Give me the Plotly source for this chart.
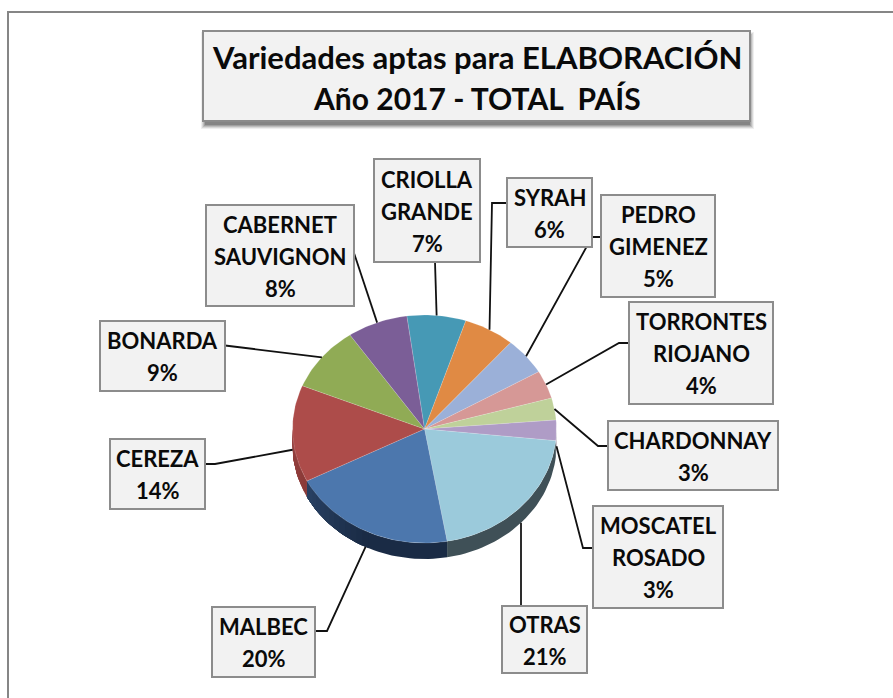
import math
import plotly.graph_objects as go

# ---- data (share of total, %) ----
varieties = ["CRIOLLA GRANDE", "SYRAH", "PEDRO GIMENEZ", "TORRONTES RIOJANO", "CHARDONNAY",
             "MOSCATEL ROSADO", "OTRAS", "MALBEC", "CEREZA", "BONARDA", "CABERNET SAUVIGNON"]
shares = [7.2, 6.25, 5.3, 4.0, 3.1, 2.9, 20.6, 20.2, 13.7, 9.25, 7.4]
label_lines = [["CRIOLLA", "GRANDE", "7%"], ["SYRAH", "6%"], ["PEDRO", "GIMENEZ", "5%"],
               ["TORRONTES", "RIOJANO", "4%"], ["CHARDONNAY", "3%"], ["MOSCATEL", "ROSADO", "3%"],
               ["OTRAS", "21%"], ["MALBEC", "20%"], ["CEREZA", "14%"], ["BONARDA", "9%"],
               ["CABERNET", "SAUVIGNON", "8%"]]
title_lines = ["Variedades aptas para ELABORACIÓN", "Año 2017 - TOTAL  PAÍS"]

# ---- styles and layout ----
colors = ["#4699b5", "#e08a44", "#9bb0d8", "#d69896", "#bfd19a", "#af9cc6",
          "#9bcadb", "#4c77ad", "#ad4c4a", "#90ab55", "#7b5e97"]
side_colors = ["#2a5c6d", "#874f25", "#5d6a82", "#815b5a", "#73805c", "#6a5e78",
               "#3f5057", "#1a2b45", "#7a3230", "#566733", "#4a385b"]
FONT = "Lato"
CX, CY, RX, RY, DEPTH = 424.5, 429.0, 132.0, 114.0, 16.0
START = -7.7
# box x0, y0, x1, y1 and leader bend points, in page pixels
boxes = [(374, 159, 480, 262), (507, 178, 592, 247), (601, 195, 715, 297), (629, 302, 773, 404),
         (608, 421, 778, 490), (593, 506, 723, 608), (502, 606, 587, 673), (212, 607, 315, 677),
         (110, 439, 205, 509), (100, 321, 225, 391), (206, 205, 354, 306)]
bends = [[(435, 262)], [(492, 203), (507, 203)], [(592, 237), (601, 237)], [(619, 343), (629, 343)],
         [(598, 446), (608, 446)], [(583, 548), (593, 548)], [(521, 606)], [(327, 631), (315, 631)],
         [(215, 464), (205, 464)], [(228, 345.5), (225, 345.5)], [(354, 253)]]


def pt(t_deg, dy=0.0):
    t = math.radians(t_deg)
    return CX + RX * math.sin(t), CY - RY * math.cos(t) + dy


def mix(c1, c2, f):
    a = [int(c1[j:j + 2], 16) for j in (1, 3, 5)]
    b = [int(c2[j:j + 2], 16) for j in (1, 3, 5)]
    return "rgb({},{},{})".format(*[round(x + (y - x) * f) for x, y in zip(a, b)])


total = sum(shares)
edges = [START]
for s in shares:
    edges.append(edges[-1] + s / total * 360)

fig = go.Figure()

# side wall of the disc (front half only), lighter toward the far left;
# each band is painted from its start to the slice's end so no seams appear
STEP = 3.0
GRAD_FROM = 205.0
for i, name in enumerate(varieties):
    a0, b0 = edges[i], edges[i + 1]
    for shift in (0, 360, -360):
        a, b = max(a0 + shift, 90), min(b0 + shift, 270)
        if a < b:
            starts = [a]
            t = max(a, GRAD_FROM)
            while t + STEP < b:
                if t > starts[-1]:
                    starts.append(t)
                t += STEP
            for t0 in starts:
                n = max(2, int((b - t0) / 2))
                ts = [t0 + (b - t0) * k / n for k in range(n + 1)]
                poly = [pt(t) for t in ts] + [pt(t, DEPTH) for t in reversed(ts)]
                f = max(0.0, (t0 - GRAD_FROM) / 65) * 0.55
                col = mix(side_colors[i], colors[i], f)
                fig.add_trace(go.Scatter(x=[p[0] for p in poly], y=[p[1] for p in poly], mode="lines",
                                         fill="toself", fillcolor=col, line=dict(width=0),
                                         hoverinfo="skip", showlegend=False))

# top face
for i, name in enumerate(varieties):
    a, b = edges[i], edges[i + 1]
    n = max(2, int((b - a) / 1.5))
    ts = [a + (b - a) * k / n for k in range(n + 1)]
    poly = [(CX, CY)] + [pt(t) for t in ts] + [(CX, CY)]
    fig.add_trace(go.Scatter(x=[p[0] for p in poly], y=[p[1] for p in poly], mode="lines", name=name,
                             fill="toself", fillcolor=colors[i], line=dict(width=0.6, color="rgba(255,255,255,0.25)"),
                             text=f"{name} {shares[i]}%", hoverinfo="text", showlegend=False))

# leader lines: start on the rim at each slice's mid angle
for i, name in enumerate(varieties):
    mid = (edges[i] + edges[i + 1]) / 2
    start = pt(mid, DEPTH if 90 < mid < 270 else 0)
    path = [start] + bends[i]
    fig.add_trace(go.Scatter(x=[p[0] for p in path], y=[p[1] for p in path], mode="lines",
                             line=dict(color="#111111", width=1.8), hoverinfo="skip", showlegend=False))

shapes = [dict(type="rect", x0=8, y0=12, x1=930, y1=730, line=dict(color="#868686", width=2), fillcolor="#ffffff", layer="below")]
# title shadow
for k, alpha in enumerate([0.08, 0.12, 0.16, 0.2, 0.25]):
    g = 4 - k
    shapes.append(dict(type="rect", x0=205 - g, y0=36 - g, x1=750 + g, y1=125 + g, line_width=0,
                       fillcolor=f"rgba(50,50,50,{alpha})", layer="below"))
shapes.append(dict(type="rect", x0=203, y0=31, x1=750, y1=121, line=dict(color="#8c8c8c", width=2), fillcolor="#f2f2f2", layer="above"))
for b in boxes:
    shapes.append(dict(type="rect", x0=b[0], y0=b[1], x1=b[2], y1=b[3], line=dict(color="#8c8c8c", width=2),
                       fillcolor="#f2f2f2", layer="above"))

annotations = []
for k, line in enumerate(title_lines):
    annotations.append(dict(x=476.5, y=56.5 + k * 41, text=line, showarrow=False, xanchor="center", yanchor="middle",
                            font=dict(family=FONT, size=31 if k == 0 else 30, color="#0a0a0a", weight=700)))
for lines, b in zip(label_lines, boxes):
    cx = (b[0] + b[2]) / 2
    cy = (b[1] + b[3]) / 2 + 0.5
    for k, line in enumerate(lines):
        annotations.append(dict(x=cx, y=cy + (k - (len(lines) - 1) / 2) * 32, text=line, showarrow=False,
                                xanchor="center", yanchor="middle",
                                font=dict(family=FONT, size=22, color="#0a0a0a", weight=700)))

fig.update_layout(width=893, height=698, margin=dict(l=0, r=0, t=0, b=0), paper_bgcolor="#ffffff", plot_bgcolor="#ffffff",
                  xaxis=dict(range=[0, 893], visible=False, fixedrange=True),
                  yaxis=dict(range=[698, 0], visible=False, fixedrange=True),
                  shapes=shapes, annotations=annotations, showlegend=False)
fig.write_html("out.html", config=dict(displayModeBar=False),
               post_script="document.body.style.margin='0';document.body.style.overflow='hidden';")
